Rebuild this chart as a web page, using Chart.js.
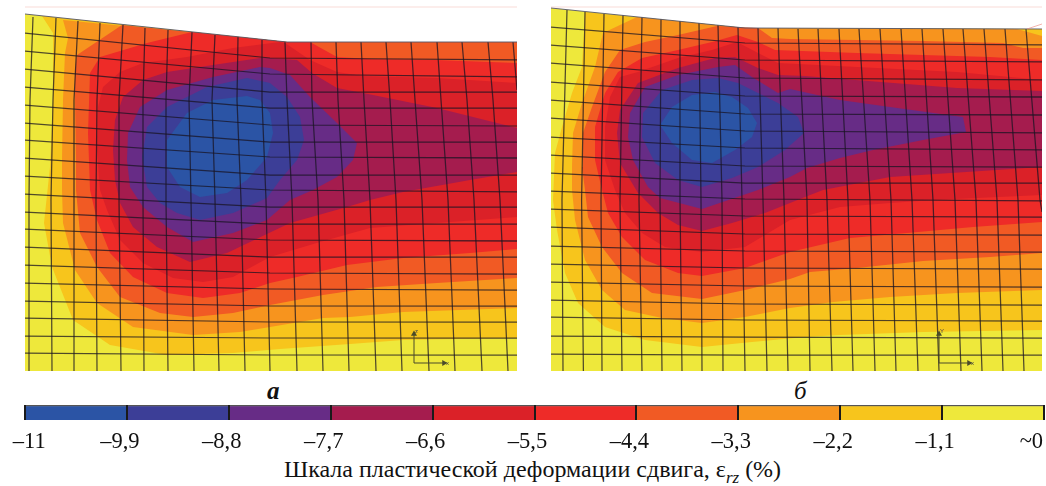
<!DOCTYPE html>
<html>
<head>
<meta charset="utf-8">
<script src="https://cdn.jsdelivr.net/npm/chart.js@4"></script>
<style>
  html, body { margin: 0; padding: 0; background: #fff; }
  #page { position: relative; width: 1046px; height: 486px; overflow: hidden; font-family: "Liberation Serif", serif; color: #111; }
  canvas { position: absolute; }
  .t { position: absolute; white-space: nowrap; line-height: 1; }
  sub { font-size: 17px; line-height: 0; }
  .small { font: 6px "Liberation Sans", sans-serif; color: #444; }
</style>
</head>
<body>
<div id="page">
  <canvas id="panelA" width="492" height="368" style="left:25px;top:4px"></canvas>
  <canvas id="panelB" width="491" height="368" style="left:551px;top:4px"></canvas>
  <canvas id="scaleBar" width="1046" height="50" style="left:0;top:405px"></canvas>
  <span class="t small" style="left:415px;top:328px">z</span>
  <span class="t small" style="left:446px;top:360px">x</span>
  <span class="t small" style="left:940px;top:328px">Y</span>
  <span class="t small" style="left:971px;top:360px">x</span>
  <span class="t" style="left:267px;top:378px;font-size:25px;font-style:italic;font-weight:bold">а</span>
  <span class="t" style="left:794px;top:378px;font-size:25px;font-style:italic">б</span>
  <span class="t" id="caption" style="left:284px;top:457px;font-size:24px">Шкала пластической деформации сдвига, ε<sub><i>rz</i></sub> (%)</span>
</div>
<script>
// colour scale
const scaleLevels = [-11, -9.9, -8.8, -7.7, -6.6, -5.5, -4.4, -3.3, -2.2, -1.1, 0];
const tickLabels = ['\u2003–11', '–9,9', '–8,8', '–7,7', '–6,6', '–5,5', '–4,4', '–3,3', '–2,2', '–1,1', '~0\u2002'];
const bandColors = ['#2B54A5', '#3C3E97', '#672C86', '#A51C4E', '#DB2128', '#EE2B28', '#F15A24', '#F7941E', '#F7C51C', '#EEE83B'];

// panel a, contour regions in model units, outermost first
const aYellow = [[25,14],[287,42],[517,42],[517,371],[25,371]];
const aAmber = [[42,16],[287,42],[517,42],[517,338],[457,339],[403,340],[350,344],[280,349],[233,353],[167,355],[110,345],[73,320],[52,267],[44,223],[50,167],[53,100],[53,33]];
const aOrange = [[63,20],[287,42],[517,42],[517,308],[403,312],[350,317],[323,318],[270,327],[240,332],[193,335],[133,327],[97,303],[75,270],[63,223],[62,190],[62,160],[63,100],[65,53],[68,38]];
const aRedOrange = [[122,25],[287,42],[517,42],[517,278],[437,283],[377,287],[323,295],[270,305],[233,313],[193,317],[160,313],[120,297],[97,267],[80,233],[76,190],[76,160],[75,100],[75,70],[77,55]];
const aRed = [[192,32],[287,42],[310,42],[337,57],[370,59],[437,60],[517,63],[517,249],[470,253],[403,258],[347,265],[297,277],[270,283],[240,293],[203,298],[167,293],[133,277],[110,253],[97,220],[90,190],[88,133],[90,73],[100,57],[147,43]];
const aDarkRed = [[280,42],[285,43],[310,60],[337,72],[363,76],[437,78],[517,83],[517,217],[437,223],[370,228],[320,242],[270,257],[233,277],[203,282],[173,278],[143,263],[120,240],[107,210],[100,190],[97,150],[98,107],[103,87],[120,72],[143,63],[187,57],[233,48]];
const aCrimson = [[260,58],[270,58],[297,60],[312,73],[337,88],[363,93],[437,108],[517,128],[517,172],[470,180],[403,192],[370,200],[347,207],[290,223],[227,253],[190,262],[157,247],[133,227],[120,203],[115,180],[113,150],[115,120],[123,97],[143,80],[167,72],[213,65]];
const aPurple = [[260,67],[270,68],[290,75],[310,97],[337,123],[357,143],[353,160],[337,177],[313,190],[290,200],[267,220],[233,233],[193,242],[167,227],[143,207],[130,187],[127,160],[128,133],[140,107],[167,90],[213,77]];
const aIndigo = [[247,78],[270,83],[287,97],[300,117],[304,140],[297,160],[280,180],[267,198],[233,213],[200,220],[177,213],[160,203],[147,187],[142,157],[147,127],[167,107],[207,87]];
const aBlue = [[247,96],[260,100],[270,113],[273,133],[267,157],[247,180],[227,193],[200,197],[180,187],[167,167],[167,140],[187,113],[213,100]];

// panel б
const bYellow = [[551,8],[745,28],[1042,29],[1042,371],[551,371]];
const bAmber = [[585,12],[745,28],[1042,29],[1042,330],[923,332],[840,335],[805,337],[752,342],[702,347],[645,340],[605,327],[578,303],[565,273],[557,230],[553,200],[555,153],[562,127],[572,93],[582,67]];
const bOrange = [[637,17],[745,28],[1017,29],[1042,36],[1042,290],[957,293],[890,297],[833,302],[790,308],[745,317],[702,323],[662,318],[625,310],[602,290],[585,260],[575,220],[572,190],[572,167],[573,133],[582,103],[595,67],[603,33]];
const bRedOrange = [[717,26],[758,28],[772,38],[790,39],[857,40],[923,41],[1003,43],[1023,48],[1042,48],[1042,253],[990,257],[923,261],[857,268],[810,272],[790,279],[745,290],[702,299],[652,293],[622,273],[602,247],[588,217],[585,190],[582,167],[583,133],[592,107],[605,72],[620,50],[645,42],[678,35]];
const bRed = [[737,35],[758,42],[775,50],[857,53],[923,55],[990,57],[1042,60],[1042,222],[973,227],[907,233],[850,238],[790,252],[745,268],[702,276],[678,273],[645,260],[622,237],[608,213],[602,190],[595,160],[595,127],[605,93],[618,72],[642,58],[678,50],[712,42]];
const bDarkRed = [[737,42],[758,53],[778,63],[857,67],[957,72],[1042,80],[1042,195],[933,200],[890,203],[840,207],[790,220],[745,247],[702,252],[665,247],[642,233],[625,213],[615,190],[605,160],[605,127],[610,97],[620,77],[638,72],[678,58],[712,50]];
const bCrimson = [[735,57],[758,68],[778,75],[805,76],[957,88],[1042,91],[1042,167],[890,177],[823,190],[805,197],[765,213],[732,223],[702,231],[678,225],[658,213],[638,193],[620,163],[617,133],[620,110],[638,83],[678,68],[715,58]];
const bPurple = [[735,65],[752,77],[778,93],[790,89],[840,100],[890,107],[963,117],[966,132],[923,140],[873,150],[840,158],[807,168],[790,177],[758,190],[702,209],[660,198],[648,187],[633,160],[628,137],[630,113],[645,87],[678,75],[718,67]];
const bIndigo = [[718,78],[738,83],[758,93],[778,103],[798,117],[804,133],[785,150],[758,167],[732,178],[702,187],[678,180],[655,163],[642,137],[643,113],[662,90],[692,80]];
const bBlue = [[715,92],[732,97],[748,108],[757,123],[752,137],[735,150],[712,163],[692,160],[672,143],[660,125],[672,107],[692,95]];

// finite element mesh, node lines
const aColumns = [
  [[33,17],[30,100],[29,200],[29,371]], [[56,18],[53,100],[51,200],[52,371]], [[78,21],[74,100],[74,200],[74,371]],
  [[100,23],[97,100],[96,200],[97,371]], [[123,25],[119,100],[119,200],[121,371]], [[145,28],[143,100],[143,200],[144,371]],
  [[168,30],[166,100],[166,200],[168,371]], [[192,32],[189,100],[191,200],[194,371]], [[215,35],[212,100],[215,200],[219,371]],
  [[238,37],[237,100],[241,200],[245,371]], [[262,40],[262,100],[266,200],[270,371]], [[285,42],[287,100],[292,200],[297,371]],
  [[311,42],[312,100],[318,200],[323,371]], [[336,42],[338,100],[344,200],[349,371]], [[361,42],[364,100],[370,200],[376,371]],
  [[386,42],[390,100],[396,200],[402,371]], [[411,42],[415,100],[422,200],[429,371]], [[437,42],[441,100],[448,200],[455,371]],
  [[462,42],[467,100],[474,200],[482,371]], [[488,42],[493,100],[500,200],[508,371]], [[513,42],[517,90]]
];
const aRows = [
  [[25,33],[270,58],[517,60]], [[25,51],[270,74],[517,77]], [[25,69],[270,92],[517,92]], [[25,87],[270,108],[517,108]],
  [[25,105],[270,125],[517,126]], [[25,123],[270,142],[517,142]], [[25,140],[270,157],[517,158]], [[25,158],[270,175],[517,175]],
  [[25,176],[270,190],[517,192]], [[25,194],[270,207],[517,207]], [[25,212],[270,224],[517,224]], [[25,229],[270,240],[517,241]],
  [[25,247],[270,257],[517,257]], [[25,265],[270,273],[517,274]], [[25,283],[270,289],[517,290]], [[25,301],[270,306],[517,306]],
  [[25,318],[270,322],[517,322]], [[25,336],[270,338],[517,338]], [[25,353],[270,355],[517,355]]
];
const bColumns = [
  [[567,10],[562,200],[563,371]], [[585,12],[581.6,200],[583.4,371]], [[604,14],[601,200],[602,371]], [[623,15],[620,200],[622,371]],
  [[642,17],[639,200],[642,371]], [[661,19],[660,200],[662,371]], [[680,21],[680,200],[682,371]], [[699,23],[701,200],[702,371]],
  [[718,25],[722,200],[723,371]], [[738,27],[742,200],[745,371]], [[758,28],[763,200],[767,371]], [[778,28],[784,200],[788,371]],
  [[798,29],[807,200],[810,371]], [[818,29],[827,200],[832,371]], [[839,29],[848,200],[853,371]], [[859,29],[870,200],[875,371]],
  [[880,29],[891,200],[896,371]], [[901,29],[912,200],[918,371]], [[922,29],[933,200],[939,371]], [[943,29],[955,200],[961,371]],
  [[963,29],[976,200],[982,371]], [[984,29],[997,200],[1003,371]], [[1005,29],[1018,200],[1024,371]], [[1026,29],[1040,200],[1042,212]]
];
const bRows = [
  [[551,27],[745,43],[1042,45]], [[551,45],[745,60],[1042,62]], [[551,63],[745,78],[1042,80]], [[551,82],[745,96],[1042,97]],
  [[551,100],[745,114],[1042,115]], [[551,118],[745,131],[1042,133]], [[551,137],[745,148],[1042,150]], [[551,155],[745,166],[1042,167]],
  [[551,173],[745,183],[1042,183]], [[551,191],[745,199],[1042,201]], [[551,209],[745,216],[1042,217]], [[551,227],[745,234],[1042,235]],
  [[551,246],[745,251],[1042,252]], [[551,264],[745,268],[1042,269]], [[551,282],[745,286],[1042,287]], [[551,300],[745,304],[1042,305]],
  [[551,317],[745,320],[1042,321]], [[551,336],[745,337],[1042,338]], [[551,354],[745,355],[1042,355]]
];

// coordinate triads and the faint print lines above the panels
const aTriadZ = [[414,363],[414,334]];
const aTriadX = [[414,363],[444,363]];
const bTriadZ = [[939,363],[939,334]];
const bTriadX = [[939,363],[969,363]];
const aTopLine = [[25,7],[517,7]];
const bTopLine = [[551,7],[1042,7]];
const bCornerTick = [[1027,29],[1042,24]];

const toPoints = pts => pts.map(p => ({x: p[0], y: p[1]}));

function lineSet(pts, color, width) {
  return {data: toPoints(pts), showLine: true, fill: false, tension: 0, borderColor: color, borderWidth: width, pointRadius: 0};
}
function bandSet(pts, color) {
  return {data: toPoints(pts), showLine: true, fill: 'shape', tension: 0, backgroundColor: color, borderColor: 'transparent', borderWidth: 0, pointRadius: 0};
}
function triadSet(pts, rotation) {
  return {data: toPoints(pts), showLine: true, fill: false, tension: 0, borderColor: '#4a4a2a', borderWidth: 1,
    pointStyle: 'triangle', pointRadius: [0, 3.5], pointRotation: rotation, pointBackgroundColor: '#4a4a2a', pointBorderWidth: 0};
}

// first dataset is painted last, so mesh first and yellow at the end
function drawPanel(id, xMin, xMax, bands, columns, rows, outline, extras) {
  const meshColor = 'rgba(25,20,35,0.75)';
  const datasets = [
    ...extras,
    lineSet(outline, 'rgba(85,85,105,0.9)', 1),
    ...rows.map(r => lineSet(r, meshColor, 1.25)),
    ...columns.map(c => lineSet(c, meshColor, 1.25)),
    ...bands.map((b, i) => bandSet(b, bandColors[i]))
  ];
  new Chart(document.getElementById(id), {
    type: 'scatter',
    data: {datasets: datasets},
    options: {
      responsive: false,
      animation: false,
      events: [],
      layout: {padding: 0, autoPadding: false},
      plugins: {legend: {display: false}, tooltip: {enabled: false}},
      scales: {
        x: {type: 'linear', display: false, min: xMin, max: xMax},
        y: {type: 'linear', display: false, min: 4, max: 372, reverse: true}
      }
    }
  });
}

drawPanel('panelA', 25, 517,
  [aBlue, aIndigo, aPurple, aCrimson, aDarkRed, aRed, aRedOrange, aOrange, aAmber, aYellow],
  aColumns, aRows, aYellow.slice(0, 3),
  [lineSet(aTopLine, 'rgba(235,150,140,0.35)', 1), triadSet(aTriadZ, 0), triadSet(aTriadX, 90)]);

drawPanel('panelB', 551, 1042,
  [bBlue, bIndigo, bPurple, bCrimson, bDarkRed, bRed, bRedOrange, bOrange, bAmber, bYellow],
  bColumns, bRows, bYellow.slice(0, 3),
  [lineSet(bTopLine, 'rgba(235,150,140,0.35)', 1), lineSet(bCornerTick, 'rgba(235,130,120,0.6)', 1), triadSet(bTriadZ, 0), triadSet(bTriadX, 90)]);

// colour bar, each band a floating bar between two levels
new Chart(document.getElementById('scaleBar'), {
  type: 'bar',
  data: {
    labels: ['ε'],
    datasets: bandColors.map((c, i) => ({
      data: [[scaleLevels[i], scaleLevels[i + 1]]],
      backgroundColor: c,
      borderColor: '#555',
      borderWidth: {top: 1.5, right: 0, bottom: 0, left: 0},
      borderSkipped: false,
      grouped: false,
      barPercentage: 1,
      categoryPercentage: 1
    }))
  },
  options: {
    indexAxis: 'y',
    responsive: false,
    animation: false,
    events: [],
    layout: {padding: {left: 25, right: 2, top: 0, bottom: 0}, autoPadding: false},
    plugins: {legend: {display: false}, tooltip: {enabled: false}},
    scales: {
      y: {display: false},
      x: {
        type: 'linear',
        position: 'bottom',
        min: -11,
        max: 0,
        afterBuildTicks: s => { s.ticks = scaleLevels.map(v => ({value: v})); },
        afterFit: s => { s.height = 35; s.paddingLeft = 0; s.paddingRight = 0; },
        grid: {color: '#1a1a1a', lineWidth: 2, z: 1, drawTicks: false},
        border: {display: false},
        ticks: {
          autoSkip: false,
          maxRotation: 0,
          padding: 9,
          labelOffset: -7,
          color: '#111',
          font: {family: 'Liberation Serif', size: 22.5},
          callback: (v, i) => tickLabels[i]
        }
      }
    }
  }
});
</script>
</body>
</html>
